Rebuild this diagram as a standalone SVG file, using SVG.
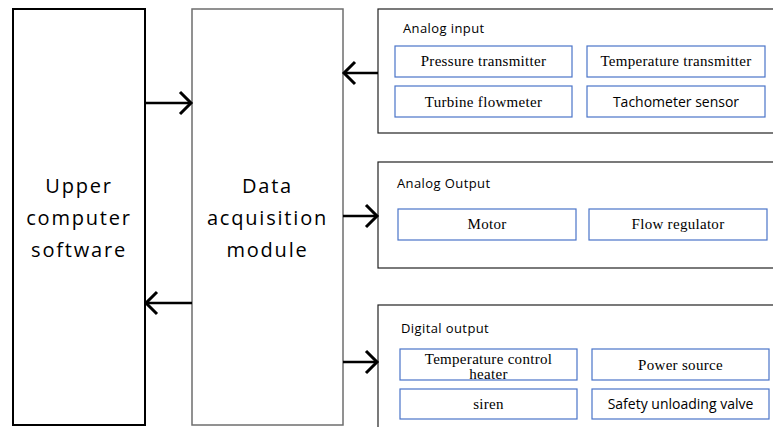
<svg xmlns="http://www.w3.org/2000/svg" width="773" height="427" viewBox="0 0 773 427">
<style>
.big{font-family:"Open Sans","Liberation Sans",sans-serif;font-size:20px;letter-spacing:1.8px;fill:#000;text-anchor:middle}
.hdr{font-family:"Open Sans","Liberation Sans",sans-serif;font-size:13px;letter-spacing:0.4px;fill:#000}
.ser{font-family:"Liberation Serif","Times New Roman",serif;font-size:15px;letter-spacing:0.3px;fill:#000;text-anchor:middle}
.san{font-family:"Open Sans","Liberation Sans",sans-serif;font-size:14px;fill:#000;text-anchor:middle}
.grp{fill:#fff;stroke:#222;stroke-width:1.2}
.item{fill:#fff;stroke:#4a74c9;stroke-width:1.2}
.conn{stroke:#000;stroke-width:2.5;fill:none;marker-end:url(#ah)}
</style>
<defs>
<marker id="ah" markerUnits="userSpaceOnUse" markerWidth="30" markerHeight="30" refX="0" refY="0" viewBox="-15 -15 30 30" orient="auto" overflow="visible">
<path d="M-11,-11 L0,0 L-11,11" fill="none" stroke="#000" stroke-width="3"/>
</marker>
</defs>
<rect width="773" height="427" fill="#fff"/>
<g id="upper">
<rect x="13" y="9" width="132" height="416" fill="#fff" stroke="#000" stroke-width="2"/>
<text class="big" x="79" y="193">Upper</text>
<text class="big" x="79" y="225">computer</text>
<text class="big" x="79" y="257">software</text>
</g>
<g id="daq">
<rect x="192" y="9" width="151" height="416" fill="#fff" stroke="#6e6e6e" stroke-width="1.5"/>
<text class="big" x="267.5" y="193">Data</text>
<text class="big" x="267.5" y="225">acquisition</text>
<text class="big" x="267.5" y="257">module</text>
</g>
<g id="analog-input">
<rect class="grp" x="378" y="9" width="420" height="124"/>
<text class="hdr" x="403" y="33">Analog input</text>
<g id="pressure"><rect class="item" x="395" y="46" width="177" height="31"/><text class="ser" x="483.5" y="66">Pressure transmitter</text></g>
<g id="temperature"><rect class="item" x="587" y="46" width="178" height="31"/><text class="ser" x="676" y="66">Temperature transmitter</text></g>
<g id="turbine"><rect class="item" x="395" y="86" width="177" height="31"/><text class="ser" x="483.5" y="107">Turbine flowmeter</text></g>
<g id="tacho"><rect class="item" x="587" y="86" width="178" height="31"/><text class="san" x="676" y="107">Tachometer sensor</text></g>
</g>
<g id="analog-output">
<rect class="grp" x="378" y="162" width="420" height="106"/>
<text class="hdr" x="397" y="188">Analog Output</text>
<g id="motor"><rect class="item" x="398" y="209" width="178" height="31"/><text class="ser" x="487" y="229">Motor</text></g>
<g id="flowreg"><rect class="item" x="589" y="209" width="178" height="31"/><text class="ser" x="678" y="229">Flow regulator</text></g>
</g>
<g id="digital-output">
<rect class="grp" x="378" y="305" width="420" height="140"/>
<text class="hdr" x="401" y="333">Digital output</text>
<g id="heater"><rect class="item" x="400" y="349" width="177" height="31"/><text class="ser" x="488.5" y="364">Temperature control</text><text class="ser" x="488.5" y="379">heater</text></g>
<g id="power"><rect class="item" x="592" y="349" width="177" height="31"/><text class="ser" x="680.5" y="370">Power source</text></g>
<g id="siren"><rect class="item" x="400" y="389" width="177" height="30"/><text class="ser" x="488.5" y="409">siren</text></g>
<g id="safety"><rect class="item" x="592" y="389" width="177" height="30"/><text class="san" x="680.5" y="409">Safety unloading valve</text></g>
</g>
<g id="connectors">
<line class="conn" x1="145" y1="103" x2="191" y2="103"/>
<line class="conn" x1="192" y1="303" x2="146" y2="303"/>
<line class="conn" x1="378" y1="73" x2="344" y2="73"/>
<line class="conn" x1="343" y1="216" x2="377" y2="216"/>
<line class="conn" x1="343" y1="362" x2="377" y2="362"/>
</g>
</svg>
